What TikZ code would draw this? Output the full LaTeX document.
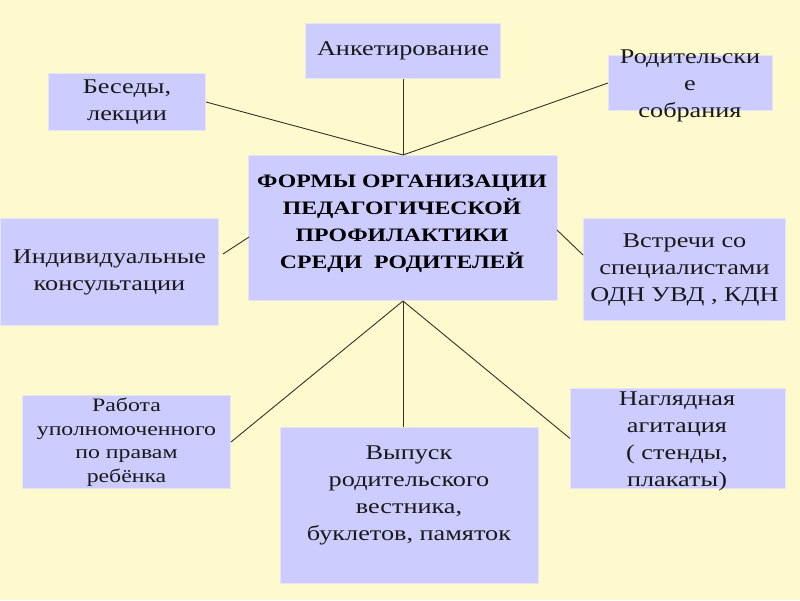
\documentclass[tikz,border=0pt]{standalone}
\usepackage{fontspec}
\setmainfont{Liberation Serif}[FakeStretch=1.25]
\definecolor{bg}{RGB}{255,250,205}
\definecolor{boxfill}{RGB}{204,204,255}
\definecolor{boxedge}{RGB}{228,228,250}
\definecolor{linec}{RGB}{50,50,40}
\begin{document}
\begin{tikzpicture}[x=1pt,y=-1pt,
  box/.style={fill=boxfill,draw=boxedge,line width=1pt,inner sep=0pt,anchor=north west,align=center,text=black!90},
  txt/.style={font=\fontsize{21}{27}\selectfont},
  small/.style={font=\fontsize{19}{23.5}\selectfont},
  conn/.style={draw=linec,line width=0.9pt}]
\fill[bg] (0,0) rectangle (800,600);
\useasboundingbox (0,0) rectangle (800,600);
% boxes
\node[box,txt,minimum width=195,minimum height=55] (ank) at (305,23) {Анкетирование};
\node[box,txt,minimum width=157,minimum height=57] (bes) at (48,73) {Беседы,\\лекции};
\node[box,minimum width=164,minimum height=55] (rod) at (608,55) {};
\node[txt,align=center,text=black!90] (rodt) at (690,86) {Родительски\\е\\собрания};
\node[box,minimum width=309,minimum height=145] (cen) at (248,155) {};
\node[align=center,font=\fontsize{19}{27}\bfseries\selectfont] (cent) at (402,224) {ФОРМЫ ОРГАНИЗАЦИИ\\ПЕДАГОГИЧЕСКОЙ\\ПРОФИЛАКТИКИ\\СРЕДИ~~РОДИТЕЛЕЙ};
\node[box,txt,minimum width=218,minimum height=107] (ind) at (0,218) {Индивидуальные\\консультации};
\node[box,txt,minimum width=202,minimum height=102] (vst) at (583,218) {Встречи со\\специалистами\\ОДН УВД , КДН};
\node[box,small,minimum width=208,minimum height=93] (rab) at (22,395) {Работа\\уполномоченного\\по правам\\ребёнка};
\node[box,minimum width=258,minimum height=156] (vyp) at (280,427) {};
\node[txt,align=center,text=black!90] (vypt) at (409,495) {Выпуск\\родительского\\вестника,\\буклетов, памяток};
\node[box,minimum width=215,minimum height=100] (nag) at (570,388) {};
\node[txt,align=center,text=black!90] (nagt) at (677,441) {Наглядная\\агитация\\( стенды,\\плакаты)};
% connectors
\draw[conn] (ank.south) -- (cen.north);
\draw[conn] (bes.east) -- (cen.north);
\draw[conn] (rod.west) -- (cen.north);
\draw[conn] (rab.east) -- (cen.south);
\draw[conn] (vyp.north -| cen.south) -- (cen.south);
\draw[conn] (nag.west) -- (cen.south);
\coordinate (l1) at (223,254);
\coordinate (l2) at (249,237);
\coordinate (r1) at (557,230);
\coordinate (r2) at (583,255);
\draw[conn] (l1) -- (l2);
\draw[conn] (r1) -- (r2);
\end{tikzpicture}
\end{document}
